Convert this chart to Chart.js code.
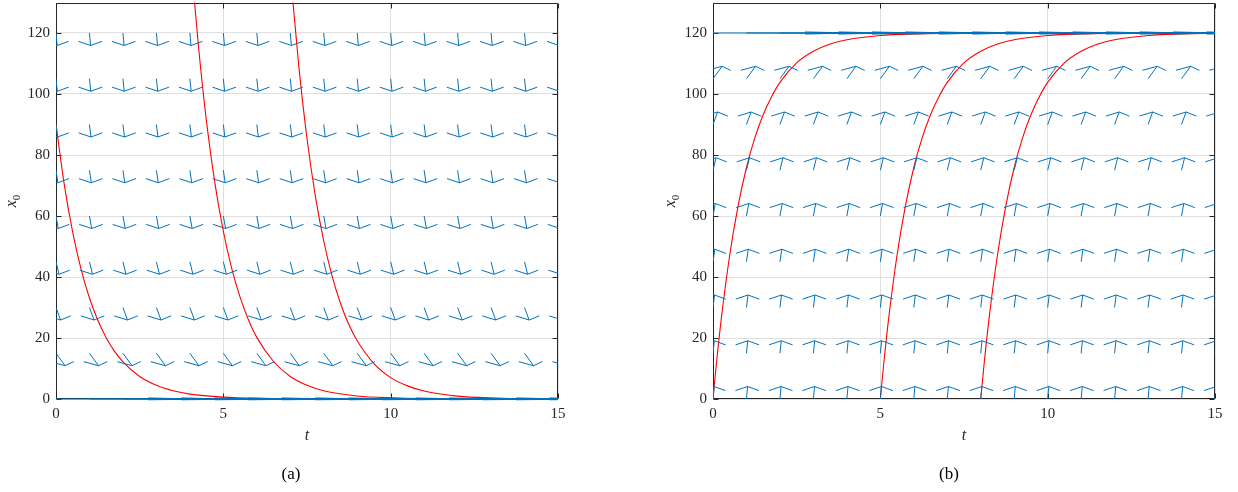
<!DOCTYPE html>
<html>
<head>
<meta charset="utf-8">
<script src="https://cdn.jsdelivr.net/npm/chart.js@4/dist/chart.umd.min.js"></script>
<style>
  body {
    margin: 0;
    width: 1238px;
    height: 492px;
    overflow: hidden;
    position: relative;
    background: #fff;
    font-family: "Liberation Serif", serif;
    color: #262626;
  }
  canvas {
    position: absolute;
    top: 0;
  }
  #chartA { left: 0; }
  #chartB { left: 657px; }
  .ylab {
    position: absolute;
    font-size: 16px;
    white-space: nowrap;
    transform: translate(-50%, -50%) rotate(-90deg);
  }
  .ylab sub { font-size: 11px; }
  .caption {
    position: absolute;
    font-size: 17px;
    transform: translate(-50%, -50%);
    color: #000;
  }
</style>
</head>
<body>
<canvas id="chartA" width="600" height="492"></canvas>
<canvas id="chartB" width="581" height="492"></canvas>
<div class="ylab" style="left:12px;top:201px"><i>x</i><sub>0</sub></div>
<div class="ylab" style="left:671px;top:201px"><i>x</i><sub>0</sub></div>
<div class="caption" style="left:291px;top:474px">(a)</div>
<div class="caption" style="left:949px;top:474px">(b)</div>
<script>
// axis ticks
const tTicks = [0, 5, 10, 15];
const xTicks = [0, 20, 40, 60, 80, 100, 120];

// quiver grid
const tGrid = [0, 1, 2, 3, 4, 5, 6, 7, 8, 9, 10, 11, 12, 13, 14, 15];
const xGrid = [0, 15, 30, 45, 60, 75, 90, 105, 120];

// arrow components per row of xGrid (t part, x0 part)
const duA = [4.1, 0.272, 0.137, 0.091, 0.068, 0.055, 0.046, 0.039, 0.034];
const dvA = [0, -4.09, -4.1, -4.1, -4.1, -4.1, -4.1, -4.1, -4.1];
const duB = [0.034, 0.039, 0.046, 0.055, 0.068, 0.091, 0.137, 0.272, 4.1];
const dvB = [4.1, 4.1, 4.1, 4.1, 4.1, 4.1, 4.1, 4.09, 0];

// red solution curves, panel (a)
const tA1 = [0, 0.25, 0.5, 0.75, 1, 1.25, 1.5, 1.75, 2, 2.5, 3, 3.5, 4, 5, 6, 7, 8, 10, 12, 15];
const xA1 = [90, 70.1, 54.6, 42.5, 33.1, 25.8, 20.1, 15.6, 12.2, 7.4, 4.5, 2.7, 1.6, 0.6, 0.2, 0.08, 0.03, 0, 0, 0];
const tA2 = [4.1, 4.25, 4.5, 4.75, 5, 5.25, 5.5, 5.75, 6, 6.5, 7, 7.5, 8, 9, 10, 12, 15];
const xA2 = [135.3, 116.5, 90.7, 70.6, 55.0, 42.8, 33.4, 26.0, 20.2, 12.3, 7.4, 4.5, 2.7, 1.0, 0.4, 0.05, 0];
const tA3 = [7.05, 7.25, 7.5, 7.75, 8, 8.25, 8.5, 8.75, 9, 9.5, 10, 10.5, 11, 12, 13, 15];
const xA3 = [134, 109.7, 85.4, 66.5, 51.8, 40.3, 31.4, 24.4, 19.1, 11.6, 7.0, 4.3, 2.6, 0.95, 0.35, 0.03];

// red solution curves, panel (b)
const tB1 = [0, 0.1, 0.25, 0.5, 0.75, 1, 1.25, 1.5, 1.75, 2, 2.5, 3, 3.5, 4, 5, 6, 7, 8, 10, 12, 15];
const xB1 = [0, 11.4, 26.5, 47.2, 63.3, 75.9, 85.6, 93.2, 99.1, 103.8, 110.2, 114.0, 116.4, 117.8, 119.2, 119.7, 119.9, 120, 120, 120, 120];
const tB2 = [5, 5.1, 5.25, 5.5, 5.75, 6, 6.25, 6.5, 6.75, 7, 7.5, 8, 8.5, 9, 10, 11, 12, 13, 15];
const xB2 = [0, 11.4, 26.5, 47.2, 63.3, 75.9, 85.6, 93.2, 99.1, 103.8, 110.2, 114.0, 116.4, 117.8, 119.2, 119.7, 119.9, 120, 120];
const tB3 = [8, 8.1, 8.25, 8.5, 8.75, 9, 9.25, 9.5, 9.75, 10, 10.5, 11, 11.5, 12, 13, 14, 15];
const xB3 = [0, 11.4, 26.5, 47.2, 63.3, 75.9, 85.6, 93.2, 99.1, 103.8, 110.2, 114.0, 116.4, 117.8, 119.2, 119.7, 119.9];

const blue = "#0072BD";
const red = "#FF0000";
const axisColor = "#262626";
const headLen = 0.33;
const headWide = 0.26;

function zip(ts, xs) {
  return ts.map((t, i) => ({ x: t, y: xs[i] }));
}

// shaft + arrow head for every grid point, null breaks the line
function quiver(du, dv) {
  const pts = [];
  xGrid.forEach((x0, r) => {
    const u = du[r];
    const v = dv[r];
    tGrid.forEach((t) => {
      const tipT = t + u;
      const tipX = x0 + v;
      pts.push({ x: t, y: x0 }, { x: tipT, y: tipX }, { x: tipT, y: null });
      pts.push({ x: tipT - headLen * (u + headWide * v), y: tipX - headLen * (v - headWide * u) });
      pts.push({ x: tipT, y: tipX });
      pts.push({ x: tipT - headLen * (u - headWide * v), y: tipX - headLen * (v + headWide * u) });
      pts.push({ x: tipT, y: null });
    });
  });
  return pts;
}

function curve(ts, xs) {
  return {
    data: zip(ts, xs),
    showLine: true,
    borderColor: red,
    borderWidth: 1.1,
    pointRadius: 0,
    cubicInterpolationMode: "monotone",
  };
}

// box around the plot with inward tick marks (under the data, like matlab)
const boxPlugin = {
  id: "box",
  beforeDatasetsDraw(chart) {
    const { ctx, chartArea: a, scales } = chart;
    const L = Math.round(a.left) + 0.5;
    const R = Math.round(a.right) - 0.5;
    const T = Math.round(a.top) + 0.5;
    const B = Math.round(a.bottom) - 0.5;
    ctx.save();
    ctx.strokeStyle = axisColor;
    ctx.lineWidth = 1;
    ctx.beginPath();
    ctx.rect(L, T, R - L, B - T);
    tTicks.forEach((v) => {
      const px = Math.round(scales.x.getPixelForValue(v)) + 0.5;
      ctx.moveTo(px, B);
      ctx.lineTo(px, B - 5);
      ctx.moveTo(px, T);
      ctx.lineTo(px, T + 5);
    });
    xTicks.forEach((v) => {
      const py = Math.round(scales.y.getPixelForValue(v)) + 0.5;
      ctx.moveTo(L, py);
      ctx.lineTo(L + 5, py);
      ctx.moveTo(R, py);
      ctx.lineTo(R - 5, py);
    });
    ctx.stroke();
    ctx.restore();
  },
};

function noEdgePadding(s) {
  s.paddingTop = 0;
  s.paddingBottom = 0;
  s.paddingLeft = 0;
  s.paddingRight = 0;
}

function makeChart(id, du, dv, curves, padRight) {
  const tickFont = { family: "Liberation Serif", size: 15 };
  new Chart(document.getElementById(id), {
    type: "scatter",
    data: {
      datasets: [
        {
          data: quiver(du, dv),
          showLine: true,
          spanGaps: false,
          borderColor: blue,
          borderWidth: 1,
          pointRadius: 0,
          clip: { left: 0, top: 0, right: 0, bottom: 1.5 },
        },
        ...curves,
      ],
    },
    options: {
      responsive: false,
      animation: false,
      layout: { padding: { left: 0, right: padRight, top: 2.5, bottom: 0 } },
      plugins: { legend: { display: false }, tooltip: { enabled: false } },
      scales: {
        x: {
          type: "linear",
          min: 0,
          max: 15,
          afterBuildTicks: (s) => { s.ticks = tTicks.map((v) => ({ value: v })); },
          afterFit: (s) => { s.height = 93; noEdgePadding(s); },
          grid: { color: "#dfdfdf", drawTicks: false },
          border: { display: false },
          ticks: { font: tickFont, color: axisColor, padding: 6, maxRotation: 0 },
          title: {
            display: true,
            text: "t",
            color: axisColor,
            font: { family: "Liberation Serif", size: 16, style: "italic" },
            padding: { top: 0, bottom: 47 },
          },
        },
        y: {
          type: "linear",
          min: 0,
          max: 130,
          afterBuildTicks: (s) => { s.ticks = xTicks.map((v) => ({ value: v })); },
          afterFit: (s) => { s.width = 56; noEdgePadding(s); },
          grid: { color: "#dfdfdf", drawTicks: false },
          border: { display: false },
          ticks: { font: tickFont, color: axisColor, padding: 6 },
        },
      },
    },
    plugins: [boxPlugin],
  });
}

makeChart("chartA", duA, dvA, [curve(tA1, xA1), curve(tA2, xA2), curve(tA3, xA3)], 42);
makeChart("chartB", duB, dvB, [curve(tB1, xB1), curve(tB2, xB2), curve(tB3, xB3)], 23);
</script>
</body>
</html>
